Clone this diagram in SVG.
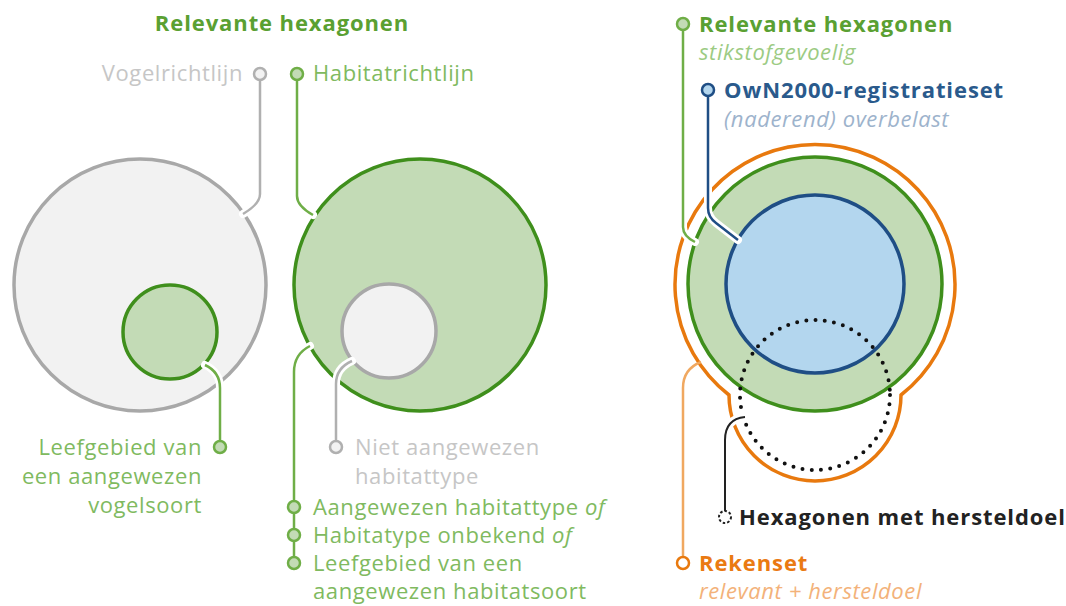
<svg xmlns="http://www.w3.org/2000/svg" width="1066" height="606" viewBox="0 0 1066 606">
<style>
text{font-family:"Open Sans","Noto Sans","Liberation Sans",sans-serif;font-size:22px;letter-spacing:0.6px}
.b{font-weight:700;letter-spacing:0.9px}
.i{font-style:italic}
.gtitle{fill:#5aa032}
.glab{fill:#80ba5f}
.grlab{fill:#c6c6c6}
.casing{fill:none;stroke:#fff;stroke-width:8;stroke-linecap:round}
.cg{fill:none;stroke:#6fae47;stroke-width:2.5}
.cgr{fill:none;stroke:#b0b0b0;stroke-width:2.5}
.mg{fill:#c3dbb6;stroke:#6fae47;stroke-width:2.5}
.mgr{fill:#f2f2f2;stroke:#b0b0b0;stroke-width:2.5}
</style>
<rect width="1066" height="606" fill="#fff"/>

<!-- Left diagram -->
<g id="title-left"><text class="b gtitle" x="282" y="31" text-anchor="middle">Relevante hexagonen</text></g>
<g id="vogelrichtlijn">
<circle cx="140" cy="285" r="126" fill="#f2f2f2" stroke="#a8a8a8" stroke-width="3.5"/>
</g>
<g id="habitatrichtlijn">
<circle cx="420" cy="285" r="126" fill="#c3dbb6" stroke="#3f8f1c" stroke-width="3.5"/>
</g>
<g id="leefgebied-vogelsoort">
<circle cx="170" cy="332" r="47" fill="#c3dbb6" stroke="#3f8f1c" stroke-width="3.5"/>
</g>
<g id="niet-aangewezen">
<circle cx="389" cy="331" r="47" fill="#f2f2f2" stroke="#a8a8a8" stroke-width="3.5"/>
</g>

<!-- Right diagram -->
<g id="rekenset">
<path d="M729,395 A140,140 0 1 1 901,395 A86,86 0 0 1 729,395 Z" fill="none" stroke="#e8790e" stroke-width="3.5"/>
</g>
<g id="relevant-right">
<circle cx="815" cy="284" r="127" fill="#c3dbb6" stroke="#3f8f1c" stroke-width="3.5"/>
</g>
<g id="own2000">
<circle cx="815" cy="284" r="89" fill="#b3d6ee" stroke="#1f4e85" stroke-width="3.5"/>
</g>
<g id="hersteldoel">
<circle cx="815" cy="395" r="75" fill="none" stroke="#111" stroke-width="4" stroke-dasharray="0 9.3" stroke-linecap="round"/>
</g>

<g id="connectors">
<!-- left -->
<path class="casing" d="M260,80 V194 Q260,204 243,214"/>
<path class="cgr" d="M260,80 V194 Q260,204 243,214"/>
<path class="casing" d="M297,80 V196 Q297,206 313,215"/>
<path class="cg" d="M297,80 V196 Q297,206 313,215"/>
<path class="casing" d="M205,365 Q220,372 220,388 V446"/>
<path class="cg" d="M205,365 Q220,372 220,388 V446"/>
<path class="casing" d="M352,361 Q336,368 336,384 V447"/>
<path class="cgr" d="M352,361 Q336,368 336,384 V447"/>
<path class="casing" d="M310,346 Q294,354 294,372 V562"/>
<path class="cg" d="M310,346 Q294,354 294,372 V562"/>
<!-- right -->
<path class="casing" d="M683,30 V227 Q683,236 695,242"/>
<path class="cg" d="M683,30 V227 Q683,236 695,242"/>
<path class="casing" d="M708,96 V208 Q708,217 716,223 L738,240"/>
<path fill="none" stroke="#1f4e85" stroke-width="2.5" d="M708,96 V208 Q708,217 716,223 L738,240"/>
<path fill="none" stroke="#f0a860" stroke-width="2.5" d="M701,362 Q683,369 683,388 V562"/>
<path class="casing" d="M745,417 Q725,419 725,440 V511" stroke-width="7"/>
<path fill="none" stroke="#222" stroke-width="2" d="M745,417 Q725,419 725,440 V511"/>
</g>

<!-- markers and labels -->
<g id="label-vogelrichtlijn">
<circle class="mgr" cx="260" cy="74" r="6"/>
<text class="grlab" x="243" y="81" text-anchor="end">Vogelrichtlijn</text>
</g>
<g id="label-habitatrichtlijn">
<circle class="mg" cx="297" cy="74" r="6"/>
<text class="glab" x="313" y="81">Habitatrichtlijn</text>
</g>
<g id="label-leefgebied-vogelsoort">
<circle class="mg" cx="220" cy="447" r="6"/>
<text class="glab" text-anchor="end"><tspan x="202" y="455">Leefgebied van</tspan><tspan x="202" y="484">een aangewezen</tspan><tspan x="202" y="513">vogelsoort</tspan></text>
</g>
<g id="label-niet-aangewezen">
<circle class="mgr" cx="336" cy="447" r="6"/>
<text class="grlab"><tspan x="355" y="455">Niet aangewezen</tspan><tspan x="355" y="484">habitattype</tspan></text>
</g>
<g id="label-aangewezen">
<circle class="mg" cx="294" cy="507" r="6"/>
<circle class="mg" cx="294" cy="535" r="6"/>
<circle class="mg" cx="294" cy="563" r="6"/>
<text class="glab"><tspan x="313" y="515">Aangewezen habitattype <tspan class="i">of</tspan></tspan><tspan x="313" y="543">Habitatype onbekend <tspan class="i">of</tspan></tspan><tspan x="313" y="571">Leefgebied van een</tspan><tspan x="313" y="599">aangewezen habitatsoort</tspan></text>
</g>

<g id="label-relevant-right">
<circle class="mg" cx="683" cy="24" r="6"/>
<text class="b gtitle" x="699" y="32">Relevante hexagonen</text>
<text class="i" fill="#9ccb83" x="699" y="60">stikstofgevoelig</text>
</g>
<g id="label-own2000">
<circle cx="708" cy="90" r="6" fill="#b3d6ee" stroke="#1f4e85" stroke-width="2.5"/>
<text class="b" fill="#2a5a8c" x="724" y="98">OwN2000-registratieset</text>
<text class="i" fill="#9db3cc" x="724" y="127">(naderend) overbelast</text>
</g>
<g id="label-hersteldoel">
<circle cx="725" cy="517" r="6" fill="#fff" stroke="#222" stroke-width="2" stroke-dasharray="2.5 2"/>
<text class="b" fill="#222" x="739" y="525">Hexagonen met hersteldoel</text>
</g>
<g id="label-rekenset">
<circle cx="683" cy="563" r="6" fill="#fff" stroke="#e8790e" stroke-width="2.5"/>
<text class="b" fill="#ea7a12" x="699" y="571">Rekenset</text>
<text class="i" fill="#f3b27a" x="699" y="599">relevant + hersteldoel</text>
</g>
</svg>
